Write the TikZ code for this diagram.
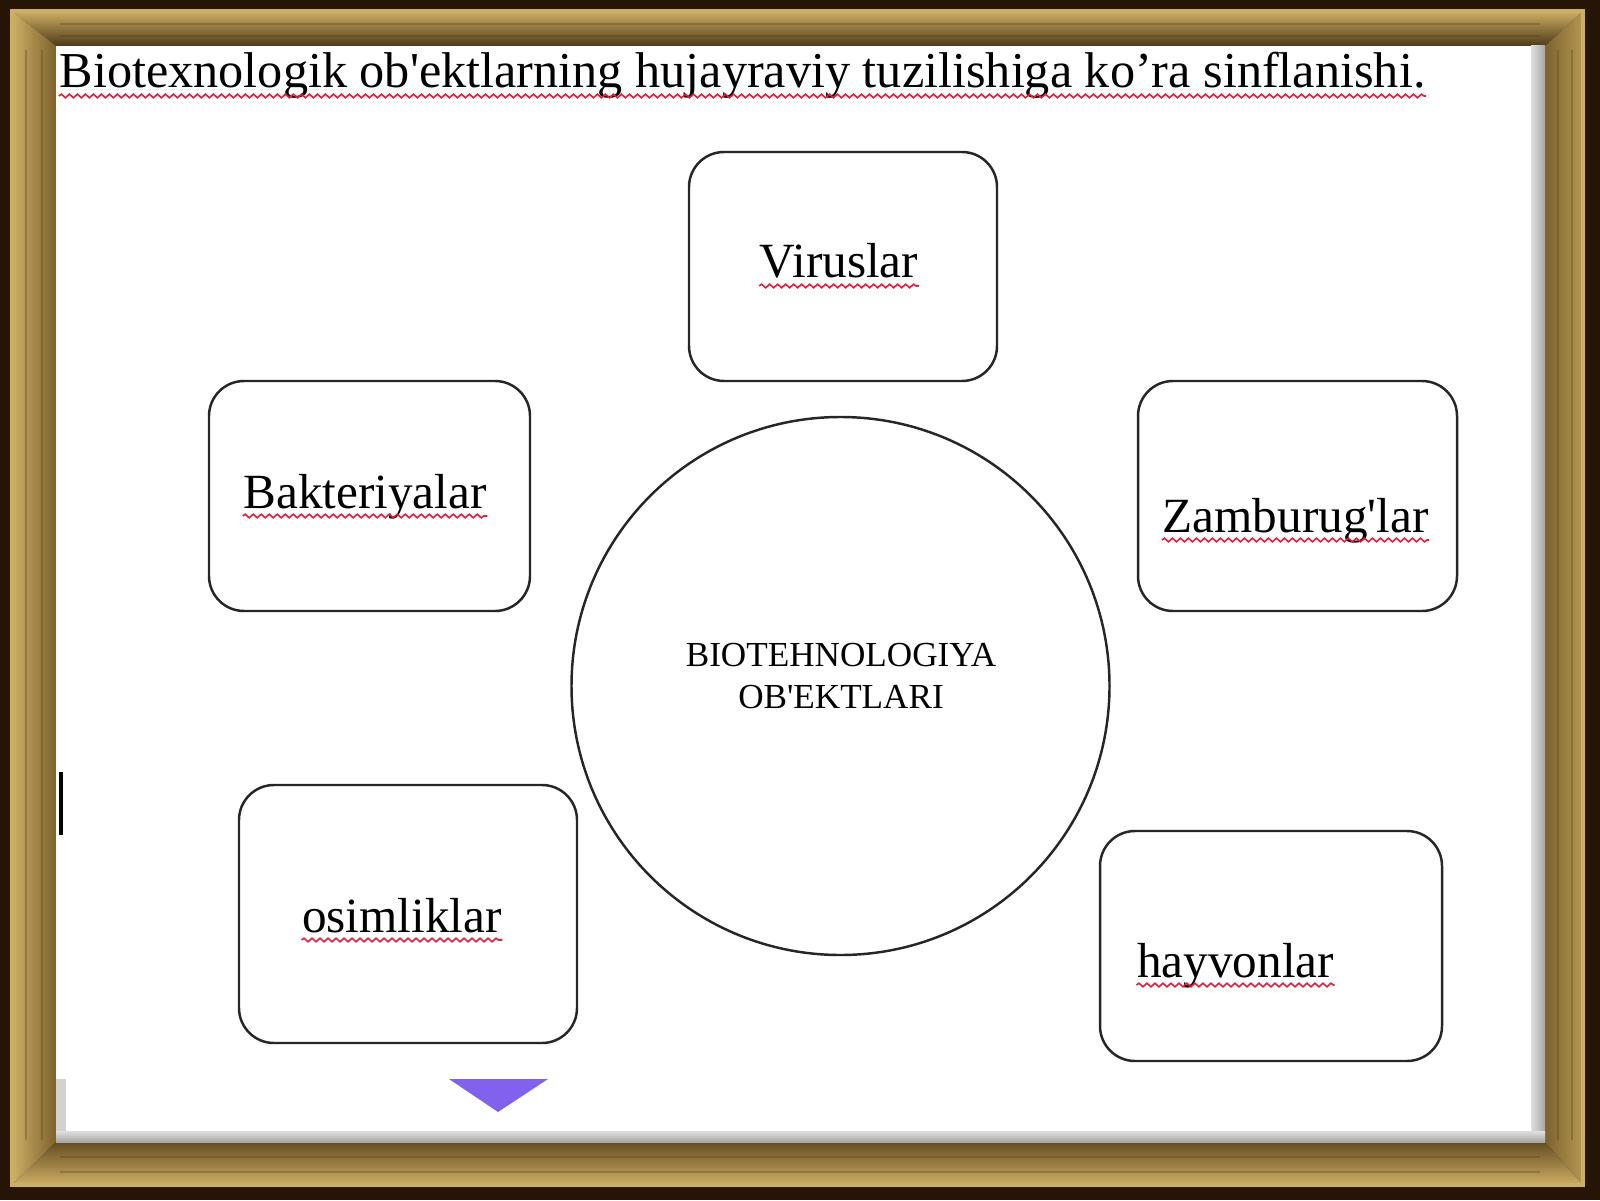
\documentclass[tikz,border=0pt]{standalone}
\usepackage{fontspec}
\setmainfont{Liberation Serif}[Ligatures=TeXOff]
\usetikzlibrary{shapes}
\usetikzlibrary{decorations.pathmorphing}
\definecolor{framedark}{RGB}{38,20,6}
\definecolor{woodlight}{RGB}{205,175,100}
\definecolor{woodmid}{RGB}{125,98,45}
\definecolor{wooddark}{RGB}{78,58,24}
\definecolor{spellred}{RGB}{225,30,60}
\definecolor{arrowviolet}{RGB}{128,98,236}
\tikzset{
    wordbox/.style = {rectangle, rounded corners=0.35cm, draw=black!85, line width=0.7pt, fill=white},
    wordtxt/.style = {inner sep=0pt, font=\fontsize{14}{16}\selectfont},
    titletxt/.style = {inner sep=0pt, font=\fontsize{14.3}{16}\selectfont},
    hub/.style = {circle, draw=black!85, line width=0.7pt, minimum size=5.38cm, inner sep=0pt},
    hubtxt/.style = {inner sep=0pt, align=center, font=\fontsize{10}{11.9}\selectfont},
    wavy/.style = {spellred, line width=0.45pt, decorate, decoration={snake, segment length=0.08cm, amplitude=0.018cm}},
    streak/.style = {wooddark, opacity=0.3, line width=0.8pt}
}

\begin{document}
\begin{tikzpicture}
\useasboundingbox (0,0) rectangle (16,12);
% frame
\fill[framedark] (0,0) rectangle (16,12);
\shade[top color=woodlight, middle color=woodmid, bottom color=wooddark] (0.12,11.89) -- (15.83,11.89) -- (15.45,11.54) -- (0.56,11.54) -- cycle;
\shade[left color=woodlight, middle color=wooddark, right color=woodmid] (0.12,11.89) -- (0.56,11.54) -- (0.56,0.58) -- (0.12,0.15) -- cycle;
\shade[left color=woodmid, middle color=wooddark!60!woodmid, right color=woodlight!70!woodmid] (15.83,11.89) -- (15.83,0.15) -- (15.45,0.58) -- (15.45,11.54) -- cycle;
\shade[top color=wooddark!50!woodmid, middle color=woodmid, bottom color=woodlight] (0.12,0.15) -- (15.83,0.15) -- (15.45,0.58) -- (0.56,0.58) -- cycle;
\foreach \y in {11.64,11.76} \draw[streak] (0.6,\y) -- (15.4,\y);
\foreach \y in {0.28,0.43} \draw[streak] (0.6,\y) -- (15.4,\y);
\foreach \x in {0.26,0.42} \draw[streak] (\x,0.6) -- (\x,11.5);
\foreach \x in {15.58,15.72} \draw[streak] (\x,0.6) -- (\x,11.5);
\draw[woodlight, line width=1pt] (0.12,0.15) rectangle (15.83,11.89);
% page
\fill[white] (0.56,0.69) rectangle (15.31,11.54);
\shade[left color=gray!25, right color=gray!70] (15.31,0.58) rectangle (15.45,11.54);
\shade[top color=gray!25, bottom color=gray!70] (0.56,0.58) rectangle (15.45,0.69);
\fill[gray!35] (0.56,0.69) rectangle (0.66,1.21);
\fill[black] (0.59,3.65) rectangle (0.63,4.28);
%
\node[titletxt, anchor=base] at (7.425, 11.12) (ttl) {Biotexnologik ob'ektlarning hujayraviy tuzilishiga ko’ra sinflanishi.};
%
\node[wordbox, minimum width=3.08cm, minimum height=2.29cm] at (8.43, 9.335) (virbox) {};
\node[wordbox, minimum width=3.21cm, minimum height=2.30cm] at (3.695, 7.04) (bakbox) {};
\node[wordbox, minimum width=3.19cm, minimum height=2.30cm] at (12.975, 7.04) (zambox) {};
\node[wordbox, minimum width=3.38cm, minimum height=2.58cm] at (4.08, 2.86) (osibox) {};
\node[wordbox, minimum width=3.42cm, minimum height=2.30cm] at (12.71, 2.54) (haybox) {};
\node[hub] at (8.405, 5.14) (hub) {};
%
\node[wordtxt, anchor=base] at (8.39, 9.22) (vir) {Viruslar};
\node[wordtxt, anchor=base] at (3.65, 6.92) (bak) {Bakteriyalar};
\node[wordtxt, anchor=base] at (12.955, 6.68) (zam) {Zamburug'lar};
\node[wordtxt, anchor=base] at (4.02, 2.68) (osi) {osimliklar};
\node[wordtxt, anchor=base] at (12.355, 2.23) (hay) {hayvonlar};
\node[hubtxt, anchor=base] at (8.41, 4.92) (hubname) {BIOTEHNOLOGIYA\\OB'EKTLARI};
%
\foreach \w in {ttl,vir,bak,zam,osi,hay}
  \draw[wavy] ([yshift=-0.08cm]\w.base west) -- ([yshift=-0.08cm]\w.base east);
%
\fill[arrowviolet] (4.49, 1.21) -- (5.48, 1.21) -- (4.98, 0.88) -- cycle;
\end{tikzpicture}
\end{document}
